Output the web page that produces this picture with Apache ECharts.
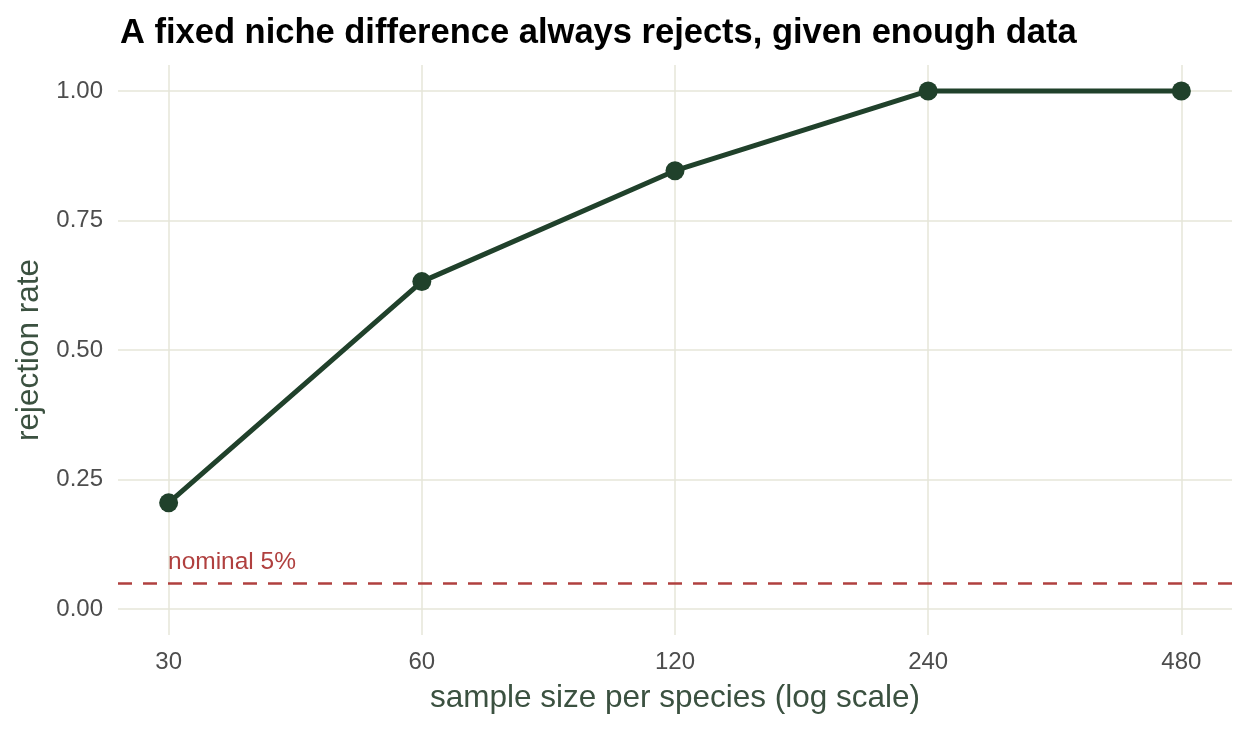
<!DOCTYPE html>
<html>
<head>
    <meta charset="utf-8">
    <title>rejection rate</title>
    <script src="https://cdn.jsdelivr.net/npm/echarts@6/dist/echarts.min.js"></script>
    <style>
        html, body { margin: 0; padding: 0; background: #fff; }
        #chart { width: 1248px; height: 729px; }
    </style>
</head>
<body>
    <div id="chart"></div>
    <script type="text/javascript">
        // values
        var sampleSizes = [30, 60, 120, 240, 480];
        var rejectionRate = [0.205, 0.632, 0.846, 1.0, 1.0];
        var yTicks = [0, 0.25, 0.5, 0.75, 1];
        var nominalLevel = 0.05;

        var gridColor = '#e6e6d9';
        var lineColor = '#20412b';
        var refColor = '#b0403f';
        var font = '"Liberation Sans", Arial, sans-serif';

        // x is plotted as log2(n), labels turned back into n
        var xTicks = sampleSizes.map(function (n) { return Math.log2(n); });
        var points = sampleSizes.map(function (n, i) { return [Math.log2(n), rejectionRate[i]]; });

        var myChart = echarts.init(document.getElementById('chart'));

        var option = {
            backgroundColor: '#fff',
            animation: false,
            title: {
                text: 'A fixed niche difference always rejects, given enough data',
                left: 115,
                top: 11,
                textStyle: { fontFamily: font, fontWeight: 'bold', fontSize: 34.5, color: '#000' }
            },
            grid: { left: 118, right: 16, top: 65, bottom: 94 },
            xAxis: {
                type: 'value',
                min: xTicks[0] - 0.2,
                max: xTicks[xTicks.length - 1] + 0.2,
                name: 'sample size per species (log scale)',
                nameLocation: 'middle',
                nameGap: 47,
                nameTextStyle: { fontFamily: font, fontSize: 31.5, color: '#3b5140' },
                axisLine: { show: false },
                axisTick: { show: false, customValues: xTicks },
                axisLabel: {
                    customValues: xTicks,
                    margin: 15,
                    fontFamily: font, fontSize: 24, color: '#4d4d4d',
                    formatter: function (v) { return String(Math.round(Math.pow(2, v))); }
                },
                splitLine: { show: true, lineStyle: { color: gridColor, width: 1.5 } }
            },
            yAxis: {
                type: 'value',
                min: -0.05,
                max: 1.05,
                name: 'rejection rate',
                nameLocation: 'middle',
                nameGap: 73,
                nameTextStyle: { fontFamily: font, fontSize: 31.5, color: '#3b5140' },
                axisLine: { show: false },
                axisTick: { show: false, customValues: yTicks },
                axisLabel: {
                    customValues: yTicks,
                    margin: 15,
                    fontFamily: font, fontSize: 24, color: '#4d4d4d',
                    formatter: function (v) { return v.toFixed(2); }
                },
                splitLine: { show: true, lineStyle: { color: gridColor, width: 1.5 } }
            },
            series: [{
                type: 'line',
                data: points,
                symbol: 'circle',
                symbolSize: 19,
                itemStyle: { color: lineColor },
                lineStyle: { color: lineColor, width: 5 },
                z: 5,
                markLine: {
                    silent: true,
                    symbol: 'none',
                    lineStyle: { color: refColor, type: [14, 11], width: 2.5 },
                    label: {
                        position: 'insideStartTop',
                        formatter: 'nominal 5%',
                        fontFamily: font, fontSize: 24.5, color: refColor,
                        distance: [50, 8]
                    },
                    data: [{ yAxis: nominalLevel }]
                }
            }]
        };

        myChart.setOption(option);
    </script>
</body>
</html>
